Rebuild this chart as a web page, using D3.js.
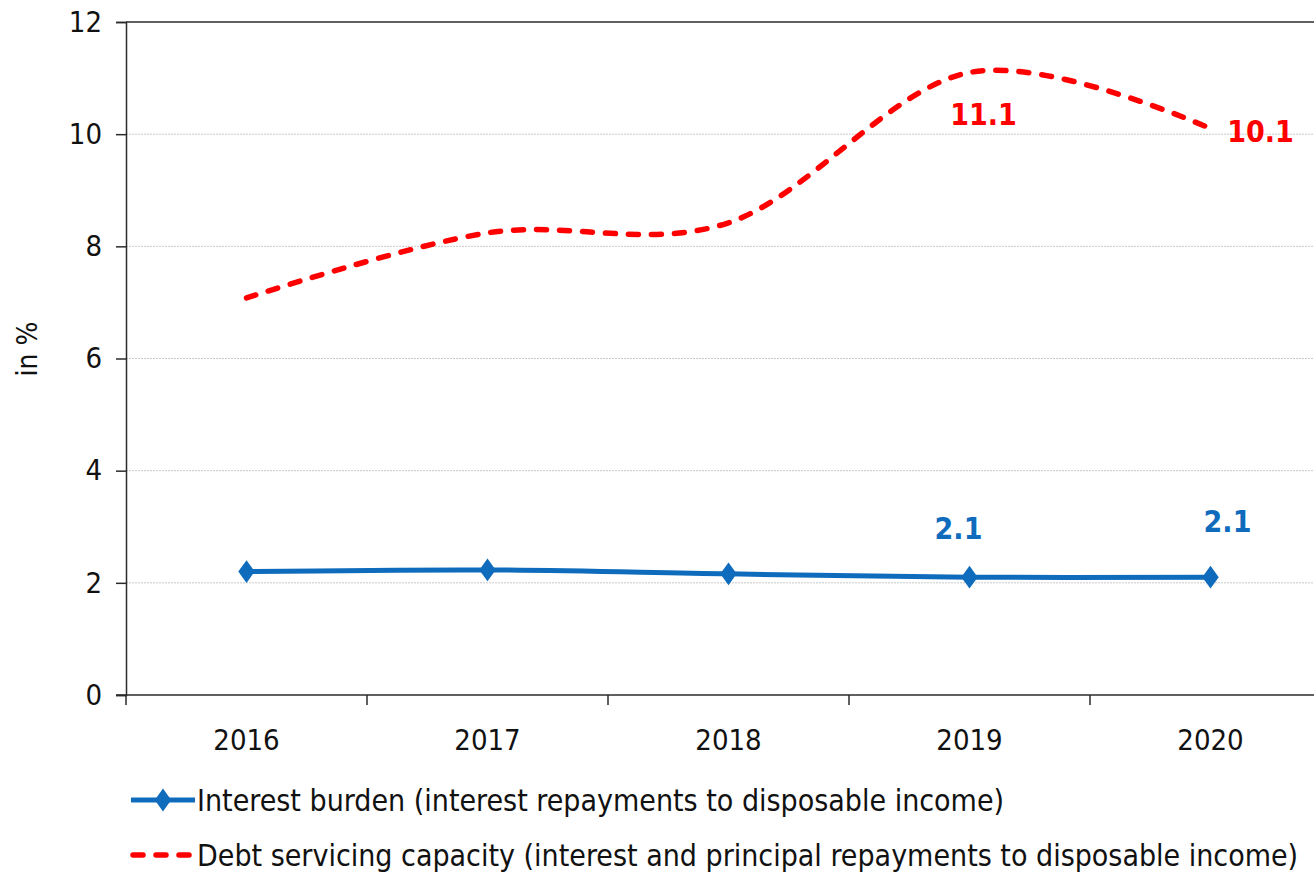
<!DOCTYPE html>
<html>
<head>
<meta charset="utf-8">
<script src="https://cdn.jsdelivr.net/npm/d3@7"></script>
<style>
  html, body { margin: 0; padding: 0; background: #fff; }
  svg { display: block; }
  text { font-family: "DejaVu Sans Condensed", "DejaVu Sans", sans-serif; }
</style>
</head>
<body>
<svg id="chart" width="1314" height="872"></svg>
<script>
// Household debt indicators, in % of disposable income
const years = ["2016", "2017", "2018", "2019", "2020"];
const interestBurden = [2.2, 2.23, 2.16, 2.1, 2.1];
const debtServicing = [7.08, 8.24, 8.42, 11.1, 10.1];
const yTicks = [0, 2, 4, 6, 8, 10, 12];
const labelledYears = ["2019", "2020"];
const legendLabels = [
  "Interest burden (interest repayments to disposable income)",
  "Debt servicing capacity (interest and principal repayments to disposable income)"
];

const svg = d3.select("#chart");
const plotLeft = 126, plotTop = 22, plotBottom = 695, plotRight = 1331;

const xBand = d3.scaleBand().domain(years).range([plotLeft, plotRight]).paddingInner(0).paddingOuter(0);
const xc = d => xBand(d) + xBand.bandwidth() / 2;
const y = d3.scaleLinear().domain([0, 12]).range([plotBottom, plotTop]);

const blue = "#0f6cbd";
const red = "#ff0000";
const axisColor = "#2b2b2b";

// gridlines
svg.append("g")
  .selectAll("line")
  .data(yTicks.filter(v => v > 0 && v < 12))
  .join("line")
  .attr("x1", plotLeft).attr("x2", 1314)
  .attr("y1", d => y(d)).attr("y2", d => y(d))
  .attr("stroke", "#c8c8c8")
  .attr("stroke-width", 1)
  .attr("stroke-dasharray", "2,1");

// top border of plot area
svg.append("line")
  .attr("x1", plotLeft).attr("x2", 1314)
  .attr("y1", y(12)).attr("y2", y(12))
  .attr("stroke", axisColor).attr("stroke-width", 1.5);

// y axis
const yAxis = d3.axisLeft(y).tickValues(yTicks).tickSize(10).tickPadding(14).tickFormat(d3.format("d"));
const gy = svg.append("g").attr("transform", `translate(${plotLeft},0)`).call(yAxis);
gy.select(".domain").attr("stroke", axisColor).attr("stroke-width", 1.5);
gy.selectAll(".tick line").attr("stroke", axisColor).attr("stroke-width", 1.5);
gy.selectAll(".tick text")
  .attr("fill", "#111")
  .style("font-size", "29px")
  .style("font-family", "'DejaVu Sans Condensed', 'DejaVu Sans', sans-serif");

// x axis: tick marks on band boundaries, labels at band centres
svg.append("line")
  .attr("x1", plotLeft - 10).attr("x2", 1314)
  .attr("y1", plotBottom).attr("y2", plotBottom)
  .attr("stroke", axisColor).attr("stroke-width", 1.5);
const boundaries = years.map(d => xBand(d)).concat([xBand.range()[1]]);
svg.append("g")
  .selectAll("line")
  .data(boundaries)
  .join("line")
  .attr("x1", d => d).attr("x2", d => d)
  .attr("y1", plotBottom).attr("y2", plotBottom + 10)
  .attr("stroke", axisColor).attr("stroke-width", 1.5);
svg.append("g")
  .selectAll("text")
  .data(years)
  .join("text")
  .attr("x", d => xc(d))
  .attr("y", plotBottom + 55)
  .attr("text-anchor", "middle")
  .attr("fill", "#111")
  .style("font-size", "29px")
  .text(d => d);

// y axis title
svg.append("text")
  .attr("transform", `translate(37,349) rotate(-90)`)
  .attr("text-anchor", "middle")
  .attr("fill", "#111")
  .style("font-size", "28px")
  .text("in %");

// both series use a smoothed line through the yearly points
const smooth = d3.line()
  .x((d, i) => xc(years[i]))
  .y(d => y(d))
  .curve(d3.curveCardinal.tension(0));

// debt servicing capacity: dashed
svg.append("path")
  .datum(debtServicing)
  .attr("d", smooth)
  .attr("fill", "none")
  .attr("stroke", red)
  .attr("stroke-width", 5.5)
  .attr("stroke-linecap", "round")
  .attr("stroke-dasharray", "10,13");

// interest burden: solid with diamonds
svg.append("path")
  .datum(interestBurden)
  .attr("d", smooth)
  .attr("fill", "none")
  .attr("stroke", blue)
  .attr("stroke-width", 5);

const diamond = d3.symbol().type(d3.symbolDiamond).size(150);
svg.append("g")
  .selectAll("path")
  .data(interestBurden)
  .join("path")
  .attr("transform", (d, i) => `translate(${xc(years[i])},${y(d)}) scale(1.25,1)`)
  .attr("d", diamond)
  .attr("fill", blue);

// value labels
const fmt = d3.format(".1f");
const redLabelOffsets = { "2019": [14, 53], "2020": [50, 13] };
const blueLabelOffsets = { "2019": [-11, -38], "2020": [17, -45] };

svg.append("g")
  .selectAll("text")
  .data(labelledYears)
  .join("text")
  .attr("x", d => xc(d) + redLabelOffsets[d][0])
  .attr("y", d => y(debtServicing[years.indexOf(d)]) + redLabelOffsets[d][1])
  .attr("text-anchor", "middle")
  .attr("fill", red)
  .style("font-size", "30px")
  .style("font-weight", "bold")
  .text(d => fmt(debtServicing[years.indexOf(d)]));

svg.append("g")
  .selectAll("text")
  .data(labelledYears)
  .join("text")
  .attr("x", d => xc(d) + blueLabelOffsets[d][0])
  .attr("y", d => y(interestBurden[years.indexOf(d)]) + blueLabelOffsets[d][1])
  .attr("text-anchor", "middle")
  .attr("fill", blue)
  .style("font-size", "30px")
  .style("font-weight", "bold")
  .text(d => fmt(interestBurden[years.indexOf(d)]));

// legend
const legend = svg.append("g");
const legendRows = [800, 855];
legend.append("line")
  .attr("x1", 131).attr("x2", 195)
  .attr("y1", legendRows[0]).attr("y2", legendRows[0])
  .attr("stroke", blue).attr("stroke-width", 5);
legend.append("path")
  .attr("transform", `translate(163,${legendRows[0]}) scale(1.25,1)`)
  .attr("d", diamond)
  .attr("fill", blue);
legend.append("line")
  .attr("x1", 133).attr("x2", 195)
  .attr("y1", legendRows[1]).attr("y2", legendRows[1])
  .attr("stroke", red).attr("stroke-width", 5.5)
  .attr("stroke-linecap", "round")
  .attr("stroke-dasharray", "10,13");
legend.selectAll("text")
  .data(legendLabels)
  .join("text")
  .attr("x", 197)
  .attr("y", (d, i) => legendRows[i] + 11)
  .attr("fill", "#111")
  .style("font-size", "30px")
  .text(d => d);
</script>
</body>
</html>
